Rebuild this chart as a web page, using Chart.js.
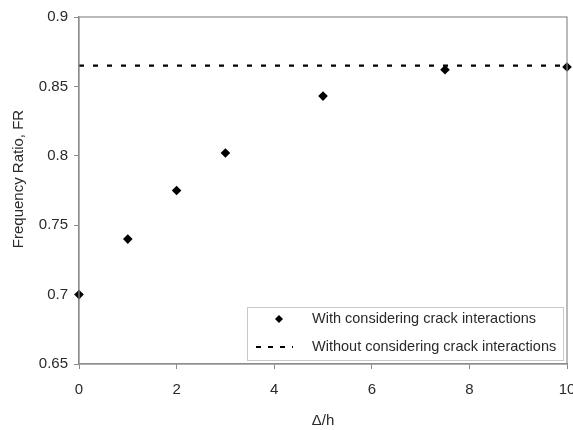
<!DOCTYPE html>
<html><head><meta charset="utf-8">
<script src="https://cdn.jsdelivr.net/npm/chart.js@4/dist/chart.umd.min.js"></script>
<style>html,body{margin:0;padding:0;background:#fff}#wrap{width:573px;height:430px}</style>
</head><body><div id="wrap"><canvas id="c"></canvas></div>
<script>
const deltaH = [0, 1, 2, 3, 5, 7.5, 10];
const frWith = [0.700, 0.740, 0.775, 0.802, 0.843, 0.862, 0.864];
const lineX = [0, 10];
const frWithout = [0.865, 0.865];
const xTicks = [0, 2, 4, 6, 8, 10];
const yTicks = [0.65, 0.7, 0.75, 0.8, 0.85, 0.9];
const labels = ['With considering crack interactions', 'Without considering crack interactions'];
const yTitle = 'Frequency Ratio, FR';
const xTitle = 'Δ/h';

const FONT = 'Liberation Sans, Arial, sans-serif';
const AXIS = '#8c8c8c';
const TXT = '#2a2a2a';

const boxPlugin = {
  id: 'box',
  afterDatasetsDraw(chart) {
    const {ctx, chartArea: a} = chart;
    ctx.save();
    ctx.strokeStyle = AXIS; ctx.lineWidth = 1.2;
    ctx.strokeRect(a.left, a.top, a.right - a.left, a.bottom - a.top);
    ctx.restore();
  },
  afterDraw(chart) {
    const {ctx, chartArea: a} = chart;
    ctx.save();
    ctx.translate(19, 179); ctx.rotate(-Math.PI / 2);
    ctx.font = '15px ' + FONT; ctx.fillStyle = TXT; ctx.textAlign = 'center'; ctx.textBaseline = 'middle';
    ctx.fillText(yTitle, 0, 0);
    ctx.restore();
    ctx.save();
    const x0 = 247, y0 = 307, w = a.right - 4 - x0, h = 53;
    ctx.fillStyle = '#fff'; ctx.fillRect(x0, y0, w, h);
    ctx.strokeStyle = '#c8c8c8'; ctx.lineWidth = 1;
    ctx.strokeRect(x0 + 0.5, y0 + 0.5, w, h);
    ctx.font = '14.5px ' + FONT; ctx.textBaseline = 'middle';
    const r1 = y0 + 12, r2 = y0 + 40;
    ctx.fillStyle = '#000';
    ctx.beginPath(); ctx.moveTo(279, r1 - 4); ctx.lineTo(283, r1); ctx.lineTo(279, r1 + 4); ctx.lineTo(275, r1); ctx.closePath(); ctx.fill();
    ctx.strokeStyle = '#000'; ctx.lineWidth = 2; ctx.setLineDash([5, 7]);
    ctx.beginPath(); ctx.moveTo(256, r2); ctx.lineTo(293, r2); ctx.stroke();
    ctx.setLineDash([]);
    ctx.fillStyle = TXT;
    ctx.fillText(labels[0], 312, r1);
    ctx.fillText(labels[1], 312, r2);
    ctx.restore();
  }
};

new Chart(document.getElementById('c'), {
  type: 'scatter',
  data: {
    datasets: [
      {
        label: labels[1], type: 'line',
        data: lineX.map((x, i) => ({x, y: frWithout[i]})),
        borderColor: '#000', borderWidth: 2.2, borderDash: [5, 9], pointRadius: 0, fill: false
      },
      {
        label: labels[0],
        data: deltaH.map((x, i) => ({x, y: frWith[i]})),
        pointStyle: 'rectRot', pointRadius: 4.8, backgroundColor: '#000', borderColor: '#000', borderWidth: 0, clip: false
      }
    ]
  },
  options: {
    responsive: true, maintainAspectRatio: false, animation: false,
    layout: {padding: {left: 8, right: 6, top: 17, bottom: 0}},
    plugins: {legend: {display: false}, tooltip: {enabled: false}},
    scales: {
      x: {
        type: 'linear', min: 0, max: 10,
        afterBuildTicks: s => { s.ticks = xTicks.map(v => ({value: v})); },
        afterFit: s => { s.height = 66; s.paddingRight = 0; s.paddingLeft = 0; },
        grid: {drawOnChartArea: false, tickLength: 5, color: AXIS},
        border: {color: AXIS, width: 1.2},
        ticks: {font: {family: FONT, size: 15}, color: TXT, padding: 12, maxRotation: 0},
        title: {display: true, text: xTitle, font: {family: FONT, size: 15}, color: TXT, padding: {top: 0, bottom: 0}}
      },
      y: {
        type: 'linear', min: 0.65, max: 0.9,
        afterBuildTicks: s => { s.ticks = yTicks.map(v => ({value: v})); },
        afterFit: s => { s.width = 71; s.paddingTop = 0; s.paddingBottom = 0; },
        grid: {drawOnChartArea: false, tickLength: 5, color: AXIS},
        border: {color: AXIS, width: 1.2},
        ticks: {font: {family: FONT, size: 15}, color: TXT, padding: 6, callback: v => String(+v.toFixed(2))},
        title: {display: false}
      }
    }
  },
  plugins: [boxPlugin]
});
</script>
</body></html>
